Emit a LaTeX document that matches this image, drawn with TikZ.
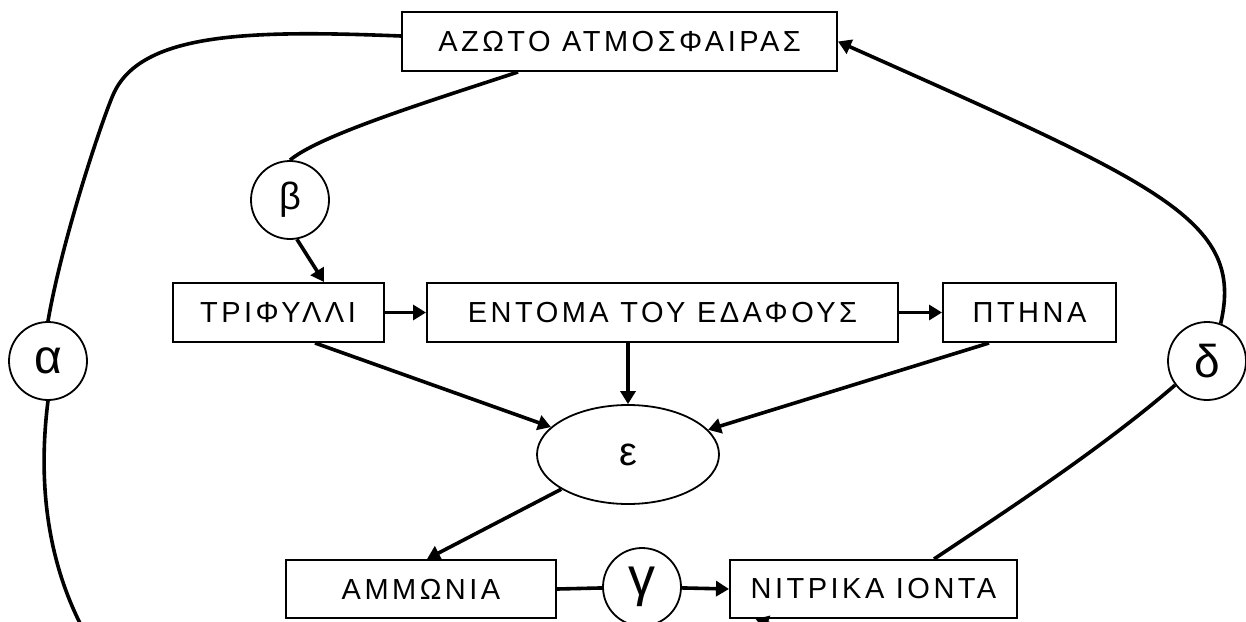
\documentclass[tikz,border=0pt]{standalone}
\usepackage{fontspec}
\setmainfont{Liberation Sans}
\newfontfamily\boxfont[LetterSpace=12]{Liberation Sans}
\usetikzlibrary{arrows.meta,shapes.geometric}
\begin{document}
\begin{tikzpicture}[x=1pt,y=-1pt,
  box/.style={draw,line width=2pt,rectangle,inner sep=0pt,minimum height=59pt,
    font=\boxfont\fontsize{29}{35}\selectfont},
  lett/.style={draw,line width=1.8pt,circle,inner sep=0pt,minimum size=78pt},
  conn/.style={line width=3.6pt},
  arr/.style={conn,-{Triangle[length=13pt,width=15pt]}}]
\clip (0,0) rectangle (1246,621);
\fill[white] (0,0) rectangle (1246,621);
% boxes
\node[box,minimum width=435pt] (azoto) at (619.5,41.5) {ΑΖΩΤΟ ΑΤΜΟΣΦΑΙΡΑΣ};
\node[box,minimum width=211pt] (trif) at (278,312.5) {ΤΡΙΦΥΛΛΙ};
\node[box,minimum width=471pt] (ent) at (662.5,312.5) {ΕΝΤΟΜΑ ΤΟΥ ΕΔΑΦΟΥΣ};
\node[box,minimum width=173pt] (pt) at (1029.5,312.5) {ΠΤΗΝΑ};
\node[box,minimum width=270pt,minimum height=58pt] (amm) at (421,589) {ΑΜΜΩΝΙΑ};
\node[box,minimum width=287pt,minimum height=58pt] (nit) at (873.5,589) {ΝΙΤΡΙΚΑ ΙΟΝΤΑ};
% letters
\node[draw,line width=1.8pt,ellipse,inner sep=0pt,minimum width=182pt,minimum height=99pt,
  font=\fontsize{40}{40}\selectfont] (eps) at (628,454.5) {ε};
\node[lett,font=\fontsize{48}{48}\selectfont] (a) at (48,361) {α};
\node[lett,font=\fontsize{38}{38}\selectfont] (b) at (290,200) {β};
\node[lett,font=\fontsize{54}{54}\selectfont] (g) at (642,587) {γ};
\node[lett,font=\fontsize{46}{46}\selectfont] (d) at (1207,361) {δ};
% connectors
\draw[conn] (azoto.west|-402,36) .. controls (250,30) and (140,32) .. (113,95)
  .. controls (101,123) and (62,240) .. (a.north);
\draw[arr] (a.south) .. controls (38,480) and (45,570) .. (95,650)
  .. controls (160,740) and (1000,700) .. ([xshift=-118pt]nit.south);
\draw[conn] ([xshift=-101.5pt]azoto.south) .. controls (430,101) and (320,135) .. (b.north);
\draw[arr] (b.-80) -- ([xshift=46pt]trif.north);
\draw[arr] (trif.east) -- (ent.west);
\draw[arr] (ent.east) -- (pt.west);
\draw[arr] ([xshift=37pt]trif.south) -- (eps);
\draw[arr] (ent.south -| eps.north) -- (eps.north);
\draw[arr] ([xshift=-40.5pt]pt.south) -- (eps);
\draw[arr] (eps) -- ([xshift=6pt]amm.north);
\draw[conn] (amm.east) -- (g);
\draw[arr] (g) -- (nit.west);
\draw[conn] ([xshift=60.5pt]nit.north) .. controls (1000,515) and (1100,450) .. (d.217);
\draw[arr] (d.70) .. controls (1245,220) and (1160,185) .. (azoto.east);
\end{tikzpicture}
\end{document}
